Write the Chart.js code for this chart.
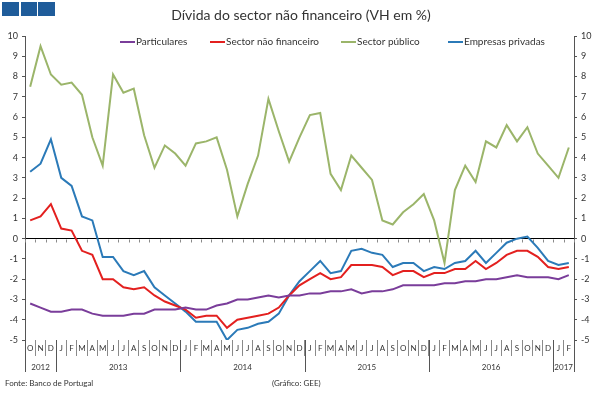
<!DOCTYPE html>
<html>
<head>
<meta charset="utf-8">
<script src="https://cdn.jsdelivr.net/npm/chart.js@4/dist/chart.umd.min.js"></script>
<style>
  html, body { margin: 0; padding: 0; background: #fff; overflow: hidden; }
</style>
</head>
<body>
<canvas id="chart" width="601" height="393"></canvas>
<script>
// month letters, Oct 2012 .. Feb 2017
const months = ['O','N','D',
  'J','F','M','A','M','J','J','A','S','O','N','D',
  'J','F','M','A','M','J','J','A','S','O','N','D',
  'J','F','M','A','M','J','J','A','S','O','N','D',
  'J','F','M','A','M','J','J','A','S','O','N','D',
  'J','F'];
const years = ['2012', '2013', '2014', '2015', '2016', '2017'];
const yearSpans = [3, 12, 12, 12, 12, 2];

const particulares = [-3.2, -3.4, -3.6, -3.6, -3.5, -3.5, -3.7, -3.8, -3.8, -3.8, -3.7, -3.7,
  -3.5, -3.5, -3.5, -3.4, -3.5, -3.5, -3.3, -3.2, -3.0, -3.0, -2.9, -2.8, -2.9, -2.8, -2.8,
  -2.7, -2.7, -2.6, -2.6, -2.5, -2.7, -2.6, -2.6, -2.5, -2.3, -2.3, -2.3, -2.3, -2.2, -2.2,
  -2.1, -2.1, -2.0, -2.0, -1.9, -1.8, -1.9, -1.9, -1.9, -2.0, -1.8];
const sectorNaoFinanceiro = [0.9, 1.1, 1.7, 0.5, 0.4, -0.6, -0.8, -2.0, -2.0, -2.4, -2.5, -2.4,
  -2.8, -3.1, -3.3, -3.5, -3.9, -3.8, -3.8, -4.4, -4.0, -3.9, -3.8, -3.7, -3.4, -2.8, -2.3,
  -2.0, -1.7, -2.0, -1.9, -1.3, -1.3, -1.3, -1.4, -1.8, -1.6, -1.6, -1.9, -1.7, -1.7, -1.5,
  -1.5, -1.1, -1.5, -1.2, -0.8, -0.6, -0.6, -0.9, -1.4, -1.5, -1.4];
const sectorPublico = [7.5, 9.5, 8.1, 7.6, 7.7, 7.1, 5.0, 3.6, 8.1, 7.2, 7.4, 5.1,
  3.5, 4.6, 4.2, 3.6, 4.7, 4.8, 5.0, 3.4, 1.1, 2.7, 4.1, 6.9, 5.3, 3.8, 5.0,
  6.1, 6.2, 3.2, 2.4, 4.1, 3.5, 2.9, 0.9, 0.7, 1.3, 1.7, 2.2, 0.9, -1.2, 2.4,
  3.6, 2.8, 4.8, 4.5, 5.6, 4.8, 5.5, 4.2, 3.6, 3.0, 4.5];
const empresasPrivadas = [3.3, 3.7, 4.9, 3.0, 2.6, 1.1, 0.9, -0.9, -0.9, -1.6, -1.8, -1.6,
  -2.4, -2.8, -3.2, -3.6, -4.1, -4.1, -4.1, -5.0, -4.5, -4.4, -4.2, -4.1, -3.7, -2.8, -2.1,
  -1.6, -1.1, -1.7, -1.6, -0.6, -0.5, -0.7, -0.8, -1.4, -1.2, -1.2, -1.6, -1.4, -1.5, -1.2,
  -1.1, -0.6, -1.2, -0.7, -0.2, 0.0, 0.1, -0.45, -1.1, -1.3, -1.2];

const FONT = 'Lato, "Liberation Sans", sans-serif';
const TEXT = '#333333';
const AXIS = '#555555';
const SEP = '#8a8a8a';

const legendX = [120, 210, 341, 448];

const decorations = {
    id: 'decorations',
    beforeDatasetsDraw(chart) {
        // little ticks under the zero line
        const { ctx, scales: { x, y } } = chart;
        const y0 = Math.round(y.getPixelForValue(0)) + 0.5;
        ctx.save();
        ctx.strokeStyle = SEP;
        ctx.lineWidth = 1;
        ctx.beginPath();
        for (let i = 0; i <= months.length; i++) {
            const px = Math.round(x.getPixelForValue(i - 0.5)) + 0.5;
            ctx.moveTo(px, y0);
            ctx.lineTo(px, y0 + 3);
        }
        ctx.stroke();
        ctx.restore();
    },
    afterDraw(chart) {
        const { ctx, scales: { x }, chartArea } = chart;
        ctx.save();

        // blue squares top left
        ctx.fillStyle = '#1f5c9a';
        ctx.fillRect(2, 2, 17, 14);
        ctx.fillRect(21, 2, 16, 14);
        ctx.fillRect(38, 2, 17, 14);

        // title
        ctx.fillStyle = TEXT;
        ctx.font = '14px ' + FONT;
        ctx.textAlign = 'center';
        ctx.textBaseline = 'middle';
        ctx.fillText('Dívida do sector não financeiro (VH em %)', 301, 15);

        // legend
        ctx.font = '10px ' + FONT;
        ctx.textAlign = 'left';
        chart.data.datasets.forEach((ds, i) => {
            const lx = legendX[i];
            ctx.strokeStyle = ds.borderColor;
            ctx.lineWidth = 2;
            ctx.beginPath();
            ctx.moveTo(lx, 42);
            ctx.lineTo(lx + 15, 42);
            ctx.stroke();
            ctx.fillStyle = TEXT;
            ctx.fillText(ds.label, lx + 16, 42);
        });

        // year separators and labels
        ctx.strokeStyle = AXIS;
        ctx.lineWidth = 1;
        ctx.font = '8px ' + FONT;
        ctx.textAlign = 'center';
        let start = 0;
        years.forEach((yr, k) => {
            const end = start + yearSpans[k];
            const x1 = x.getPixelForValue(start - 0.5);
            const x2 = x.getPixelForValue(end - 0.5);
            ctx.beginPath();
            [x1, x2].forEach(px => {
                const p = Math.round(px) + 0.5;
                ctx.moveTo(p, chartArea.bottom);
                ctx.lineTo(p, 372);
            });
            ctx.stroke();
            ctx.fillStyle = TEXT;
            ctx.fillText(yr, (x1 + x2) / 2, 367);
            start = end;
        });

        // footer
        ctx.textAlign = 'left';
        ctx.fillText('Fonte: Banco de Portugal', 5, 383);
        ctx.fillText('(Gráfico: GEE)', 272, 383);
        ctx.restore();
    }
};

function yAxis(position, width) {
    return {
        position: position,
        min: -5,
        max: 10,
        afterFit: scale => { scale.width = width; },
        ticks: { stepSize: 1, color: TEXT, font: { family: FONT, size: 9 }, padding: 4 },
        border: { display: true, color: AXIS },
        grid: {
            drawOnChartArea: position === 'left',
            color: ctx => (ctx.tick && ctx.tick.value === 0) ? '#000000' : 'rgba(0,0,0,0)',
            tickColor: AXIS,
            tickLength: 3
        }
    };
}

function line(label, data, color) {
    return {
        label: label,
        data: data,
        borderColor: color,
        backgroundColor: color,
        borderWidth: 2,
        pointRadius: 0,
        tension: 0,
        fill: false
    };
}

new Chart(document.getElementById('chart'), {
    type: 'line',
    data: {
        labels: months,
        datasets: [
            line('Particulares', particulares, '#7a3d9a'),
            line('Sector não financeiro', sectorNaoFinanceiro, '#e3201f'),
            line('Sector público', sectorPublico, '#9bb56a'),
            line('Empresas privadas', empresasPrivadas, '#2b7ab8')
        ]
    },
    options: {
        responsive: false,
        animation: false,
        layout: { padding: { top: 36, left: 0, right: 0, bottom: 0 } },
        plugins: {
            legend: { display: false },
            title: { display: false },
            tooltip: { enabled: false }
        },
        scales: {
            x: {
                type: 'category',
                offset: true,
                afterFit: scale => { scale.height = 53; },
                border: { display: false },
                grid: {
                    offset: true,
                    drawOnChartArea: false,
                    color: SEP,
                    tickLength: 16
                },
                ticks: {
                    autoSkip: false,
                    maxRotation: 0,
                    padding: -12,
                    color: TEXT,
                    font: { family: FONT, size: 8 }
                }
            },
            y: yAxis('left', 25),
            y2: yAxis('right', 27)
        }
    },
    plugins: [decorations]
});
</script>
</body>
</html>
